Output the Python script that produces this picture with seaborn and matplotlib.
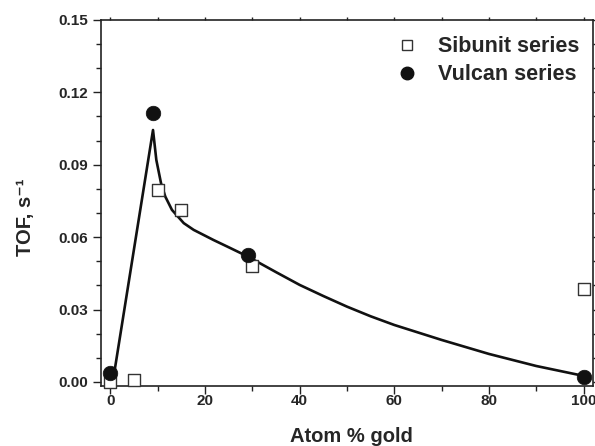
import matplotlib
matplotlib.use("Agg")
import matplotlib.pyplot as plt
import seaborn as sns
import pandas as pd
from matplotlib.ticker import MultipleLocator, FormatStrFormatter
from matplotlib.lines import Line2D

# Data
sibunit_x = [0, 5, 10, 15, 30, 100]
sibunit_y = [0.0, 0.0008, 0.0797, 0.0712, 0.0482, 0.0385]

vulcan_x = [0, 9, 29, 100]
vulcan_y = [0.0037, 0.1113, 0.0525, 0.0020]

fit_x = [0.5, 9, 9.7, 10.7, 11.6, 13, 15.5, 17.6, 21.8, 25, 29, 35, 40, 45, 50, 55, 60,
         70, 80, 90, 100]
fit_y = [0.0, 0.1044, 0.0920, 0.0823, 0.0768, 0.0713, 0.0658, 0.0630, 0.0588, 0.0558,
         0.0520, 0.0455, 0.0402, 0.0356, 0.0312, 0.0272, 0.0236, 0.0174, 0.0116, 0.0066,
         0.0025]

sns.set_style("ticks")
plt.rcParams['font.family'] = ['Liberation Sans', 'DejaVu Sans']
plt.rcParams['font.weight'] = 'bold'

fig = plt.figure(figsize=(5.95, 4.46), dpi=100)
ax = fig.add_axes([0.1697, 0.1345, 0.8269, 0.8207])

fit_df = pd.DataFrame({"x": fit_x, "y": fit_y})
sib_df = pd.DataFrame({"x": sibunit_x, "y": sibunit_y})
vul_df = pd.DataFrame({"x": vulcan_x, "y": vulcan_y})

sns.lineplot(data=fit_df, x="x", y="y", ax=ax, color="#111111", linewidth=1.9,
             sort=False, zorder=2)
sns.scatterplot(data=sib_df, x="x", y="y", ax=ax, marker="s", s=80,
                facecolor="white", edgecolor="#333333", linewidth=1.0, zorder=3,
                clip_on=False)
sns.scatterplot(data=vul_df, x="x", y="y", ax=ax, marker="o", s=110,
                color="#111111", edgecolor="#111111", linewidth=0.5, zorder=4,
                clip_on=False)

ax.set_xlim(-2, 102)
ax.set_ylim(-0.0017, 0.15)

ax.xaxis.set_major_locator(MultipleLocator(20))
ax.xaxis.set_minor_locator(MultipleLocator(10))
ax.yaxis.set_major_locator(MultipleLocator(0.03))
ax.yaxis.set_minor_locator(MultipleLocator(0.01))
ax.yaxis.set_major_formatter(FormatStrFormatter('%.2f'))
ax.xaxis.set_major_formatter(FormatStrFormatter('%d'))

ax.tick_params(which='both', direction='out', top=True, right=True,
               labeltop=False, labelright=False, color='#222222', width=1.0)
ax.tick_params(which='major', length=5.5, labelsize=11)
ax.tick_params(which='minor', length=3.5)
ax.tick_params(axis='x', which='major', pad=0.5)
ax.tick_params(axis='y', which='major', pad=4)
for lab in ax.get_xticklabels() + ax.get_yticklabels():
    lab.set_fontweight('bold')

# short ticks on the top and right spines
for axis in (ax.xaxis, ax.yaxis):
    for t in axis.get_major_ticks() + axis.get_minor_ticks():
        t.tick2line.set_markersize(2.5)

for sp in ax.spines.values():
    sp.set_visible(True)
    sp.set_linewidth(1.2)
    sp.set_color('#222222')

ax.set_xlabel("Atom % gold", fontsize=14.5, fontweight='bold')
ax.xaxis.set_label_coords(0.51, -0.112)
ax.set_ylabel("TOF, s\u207b\u00b9", fontsize=14.5, fontweight='bold')
ax.yaxis.set_label_coords(-0.134, 0.46)

handles = [
    Line2D([], [], marker='s', linestyle='none', markersize=6.5,
           markerfacecolor='white', markeredgecolor='#333333', markeredgewidth=1.0),
    Line2D([], [], marker='o', linestyle='none', markersize=9,
           markerfacecolor='#111111', markeredgecolor='#111111'),
]
ax.legend(handles, ["Sibunit series", "Vulcan series"], loc='upper left',
          frameon=False, prop={'size': 15.5, 'weight': 'bold'},
          handlelength=1.0, handletextpad=0.94, labelspacing=0.34, borderpad=0,
          borderaxespad=0, bbox_to_anchor=(0.600, 0.956))

fig.savefig("out.png", dpi=100)
